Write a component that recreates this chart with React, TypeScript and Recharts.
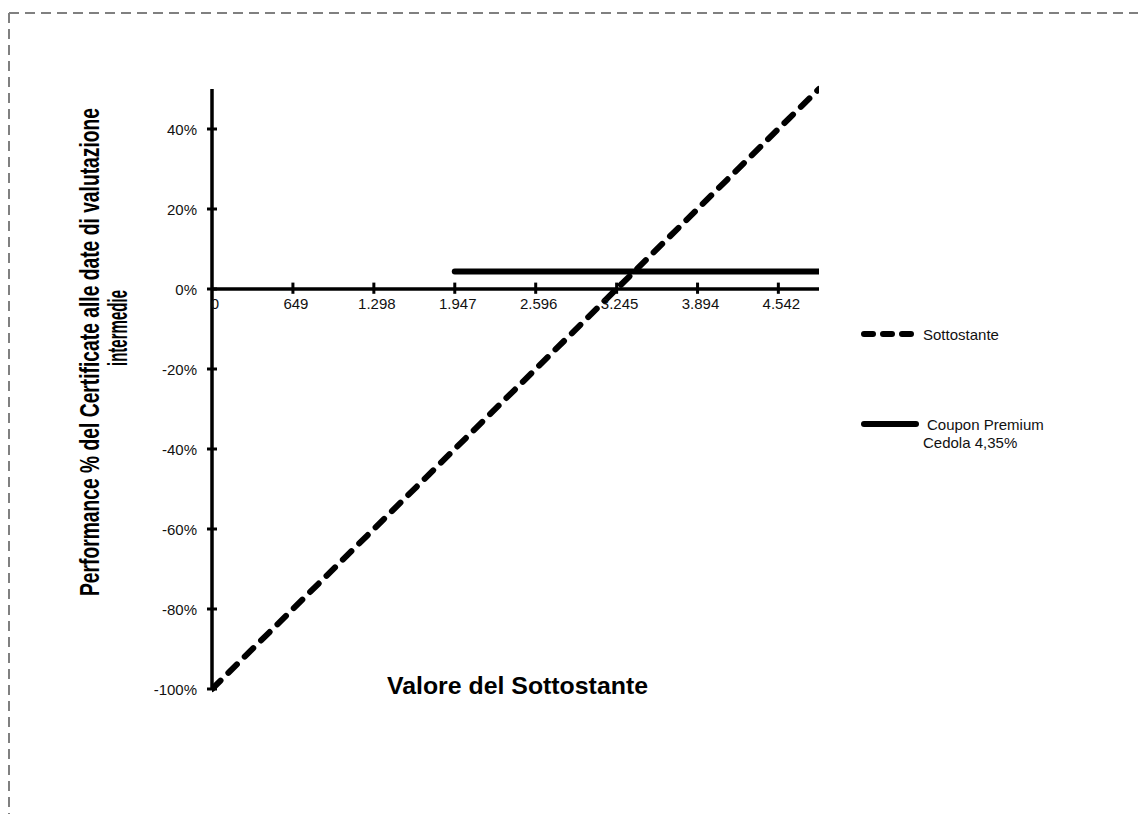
import React from 'react';
import { LineChart, Line, XAxis, YAxis, ReferenceLine, ReferenceDot, Legend } from 'recharts';

// ---- data ----
const underlyingX = [0, 649, 1298, 1947, 2596, 3245, 3894, 4542, 4868];
const underlyingPerf = [-1, -0.8, -0.6, -0.4, -0.2, 0, 0.2, 0.4, 0.5];
const couponX = [1947, 4868];
const couponPerf = [0.0435, 0.0435];

const xTicks = [0, 649, 1298, 1947, 2596, 3245, 3894, 4542];
const xTickLabels = ['0', '649', '1.298', '1.947', '2.596', '3.245', '3.894', '4.542'];
const yTicks = [-1, -0.8, -0.6, -0.4, -0.2, 0, 0.2, 0.4];
const yTickLabels = ['-100%', '-80%', '-60%', '-40%', '-20%', '0%', '20%', '40%'];
const xDomain = [0, 4868];
const yDomain = [-1, 0.5];

const seriesNames = ['Sottostante', 'Coupon Premium Cedola 4,35%'];
const legendLines = [['Sottostante'], ['Coupon Premium', 'Cedola 4,35%']];
const xTitle = 'Valore del Sottostante';
const yTitleLines = ['Performance % del Certificate alle date di valutazione', 'intermedie'];

const sottostanteData = underlyingX.map((x, i) => ({ x, y: underlyingPerf[i] }));
const couponData = couponX.map((x, i) => ({ x, y: couponPerf[i] }));

const FONT = '"Liberation Sans", Arial, sans-serif';
const TICK_SIZE = 5;
const TICK_MARGIN = 10;

const YTick = (props: any) => {
  const { x, y, payload } = props;
  const axisX = x + TICK_SIZE + TICK_MARGIN;
  const idx = yTicks.indexOf(payload.value);
  return (
    <g>
      <line x1={axisX - 5} x2={axisX + 5} y1={y} y2={y} stroke="#000" strokeWidth={3} />
      <text x={x} y={y} textAnchor="end" dominantBaseline="central" fontSize={15} fill="#111" fontFamily={FONT}>
        {idx >= 0 ? yTickLabels[idx] : payload.value}
      </text>
    </g>
  );
};

const YTitle = (props: any) => {
  const vb = props.viewBox || { x: 152, y: 89, width: 60, height: 600 };
  const b1 = vb.x - 53;
  const b2 = vb.x - 25;
  const c1 = vb.y + 263;
  const c2 = vb.y + 239;
  return (
    <g fontFamily={FONT} fontWeight="bold" fontSize={27} fill="#000">
      <text transform={`translate(${b1},${c1}) rotate(-90)`} textAnchor="middle" textLength={488} lengthAdjust="spacingAndGlyphs">
        {yTitleLines[0]}
      </text>
      <text transform={`translate(${b2},${c2}) rotate(-90)`} textAnchor="middle" textLength={76} lengthAdjust="spacingAndGlyphs">
        {yTitleLines[1]}
      </text>
    </g>
  );
};

const XTitle = (props: any) => {
  const vb = props.viewBox || { x: 212, y: 689, width: 607, height: 1 };
  return (
    <text x={vb.x + vb.width / 2 + 2} y={vb.y + 5} textAnchor="middle" fontFamily={FONT} fontWeight="bold" fontSize={24} fill="#000" textLength={261} lengthAdjust="spacingAndGlyphs">
      {xTitle}
    </text>
  );
};

const LegendContent = (props: any) => {
  const payload = props.payload || [];
  return (
    <svg width={283} height={150} style={{ display: 'block' }}>
      {payload.map((entry: any, i: number) => {
        const rowY = i === 0 ? 19 : 109;
        const dashed = i === 0;
        const lines = legendLines[i] || [entry.value];
        return (
          <g key={i}>
            <line
              x1={9}
              x2={dashed ? 56 : 61}
              y1={rowY}
              y2={rowY}
              stroke={entry.color || '#000'}
              strokeWidth={6}
              strokeLinecap="round"
              strokeDasharray={dashed ? '9 10' : undefined}
            />
            {lines.map((t: string, j: number) => (
              <text key={j} x={j === 0 ? (dashed ? 68 : 72) : 68} y={rowY + j * 18} dominantBaseline="central" fontSize={15} fill="#111" fontFamily={FONT}>
                {t}
              </text>
            ))}
          </g>
        );
      })}
    </svg>
  );
};

export default function App() {
  return (
    <div style={{ position: 'absolute', left: 0, top: 0, width: 1138, height: 814, overflow: 'hidden', background: '#fff' }}>
      <svg width={1138} height={814} style={{ position: 'absolute', left: 0, top: 0, pointerEvents: 'none' }}>
        <line x1={9} y1={13} x2={1138} y2={13} stroke="#808080" strokeWidth={2} strokeDasharray="10 6" />
        <line x1={9} y1={13} x2={9} y2={814} stroke="#808080" strokeWidth={2} strokeDasharray="10 6" />
      </svg>
      <div style={{ position: 'absolute', left: 0, top: 0 }}>
        <LineChart width={1138} height={814} margin={{ top: 89, right: 319, bottom: 124, left: 152 }}>
          <XAxis
            type="number"
            dataKey="x"
            domain={xDomain}
            ticks={xTicks}
            allowDataOverflow
            tick={false}
            tickLine={false}
            axisLine={false}
            height={1}
            label={{ content: (p: any) => <XTitle viewBox={p.viewBox} /> }}
          />
          <YAxis
            type="number"
            domain={yDomain}
            ticks={yTicks}
            interval={0}
            width={60}
            tickSize={TICK_SIZE}
            tickMargin={TICK_MARGIN}
            tickLine={false}
            axisLine={{ stroke: '#000', strokeWidth: 3.5 }}
            tick={(p: any) => <YTick {...p} />}
            label={{ content: (p: any) => <YTitle viewBox={p.viewBox} /> }}
          />
          <ReferenceLine y={0} stroke="#000" strokeWidth={3.5} />
          {xTicks.slice(1).map((t) => (
            <ReferenceLine key={'t' + t} segment={[{ x: t, y: -0.012 }, { x: t, y: 0.016 }]} stroke="#000" strokeWidth={3} />
          ))}
          {xTicks.map((t, i) => (
            <ReferenceDot
              key={'l' + t}
              x={t}
              y={0}
              r={0}
              fill="none"
              stroke="none"
              label={{ value: xTickLabels[i], position: 'bottom', offset: 9, fontSize: 15, fill: '#111', fontFamily: FONT, dx: 3 }}
            />
          ))}
          <Line
            data={couponData}
            dataKey="y"
            name={seriesNames[1]}
            type="linear"
            stroke="#000"
            strokeWidth={6}
            strokeLinecap="round"
            dot={false}
            activeDot={false}
            isAnimationActive={false}
          />
          <Line
            data={sottostanteData}
            dataKey="y"
            name={seriesNames[0]}
            type="linear"
            stroke="#000"
            strokeWidth={6}
            strokeDasharray="12 11"
            strokeLinecap="round"
            dot={false}
            activeDot={false}
            isAnimationActive={false}
          />
          <Legend
            layout="horizontal"
            verticalAlign="middle"
            align="center"
            content={<LegendContent />}
            wrapperStyle={{ position: 'absolute', left: 855, top: 315, width: 283, height: 150 }}
          />
        </LineChart>
      </div>
    </div>
  );
}
